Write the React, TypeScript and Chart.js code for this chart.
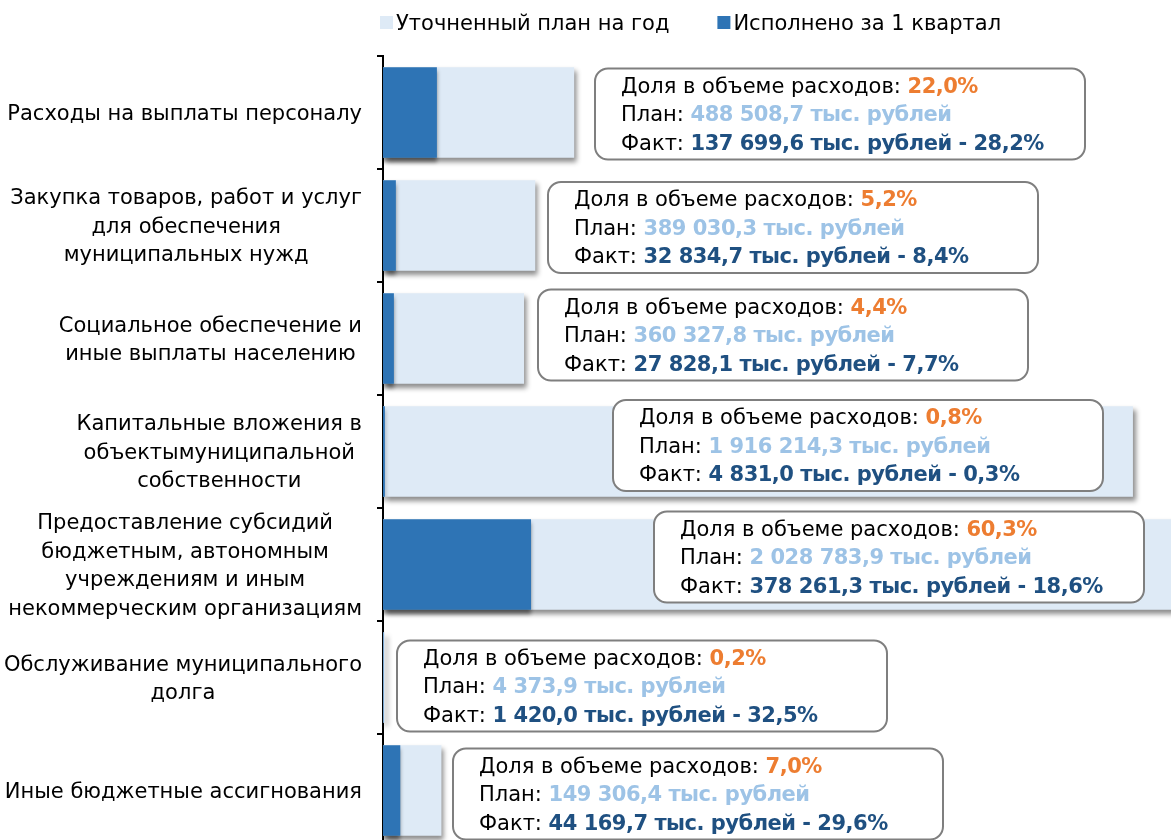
import React, { useEffect, useRef } from "react";
import { Chart, registerables } from "chart.js";

Chart.register(...registerables);

// ---------- data ----------
const categories: string[][] = [
  ["Расходы на выплаты персоналу"],
  ["Закупка товаров, работ и услуг", "для обеспечения", "муниципальных нужд"],
  ["Социальное обеспечение и", "иные выплаты населению"],
  ["Капитальные вложения в", "объектымуниципальной", "собственности"],
  ["Предоставление субсидий", "бюджетным, автономным", "учреждениям и иным", "некоммерческим организациям"],
  ["Обслуживание муниципального", "долга"],
  ["Иные бюджетные ассигнования"],
];
const seriesNames = ["Уточненный план на год", "Исполнено за 1 квартал"];
const planValues = [488508.7, 389030.3, 360327.8, 1916214.3, 2028783.9, 4373.9, 149306.4];
const factValues = [137699.6, 32834.7, 27828.1, 4831.0, 378261.3, 1420.0, 44169.7];
const shareLabels = ["22,0%", "5,2%", "4,4%", "0,8%", "60,3%", "0,2%", "7,0%"];
const factPercentLabels = ["28,2%", "8,4%", "7,7%", "0,3%", "18,6%", "32,5%", "29,6%"];

// ---------- layout / style ----------
const calloutLeft = [212, 165, 155, 230, 271, 14, 70]; // px from plot left
const calloutDy = [1.5, 2, -3.5, -6, -7.5, 8.5, 3.5];
const X_MAX = 2200000;
const FONT = "'DejaVu Sans', sans-serif";
const FS = 21;
const TEXT_DY = 2;
const PLAN_COLOR = "#deeaf6";
const FACT_COLOR = "#2e74b5";
const ORANGE = "#ed7d31";
const PLAN_TEXT = "#9dc3e6";
const FACT_TEXT = "#1f5081";

const fmt = (v: number) => {
  const [i, d] = v.toFixed(1).split(".");
  return i.replace(/\B(?=(\d{3})+(?!\d))/g, " ") + "," + d;
};

function drawRich(ctx: CanvasRenderingContext2D, x: number, y: number, parts: [string, boolean, string][]) {
  let cx = x;
  for (const [t, bold, color] of parts) {
    ctx.font = `${bold ? "bold " : ""}${FS}px ${FONT}`;
    (ctx as any).letterSpacing = bold ? "-0.5px" : "0px";
    ctx.fillStyle = color;
    ctx.fillText(t, cx, y);
    cx += ctx.measureText(t).width;
  }
  (ctx as any).letterSpacing = "0px";
}

const customPlugin = {
  id: "custom",
  beforeDatasetDraw(chart: any, args: any) {
    const ctx = chart.ctx;
    ctx.save();
    ctx.shadowColor = "rgba(0,0,0,0.45)";
    if (args.index === 0) {
      ctx.shadowBlur = 5;
      ctx.shadowOffsetX = 3;
      ctx.shadowOffsetY = 4;
    } else {
      ctx.shadowBlur = 4;
      ctx.shadowOffsetX = 0;
      ctx.shadowOffsetY = 4;
    }
  },
  afterDatasetDraw(chart: any) {
    chart.ctx.restore();
  },
  afterDraw(chart: any) {
    const ctx: CanvasRenderingContext2D = chart.ctx;
    const area = chart.chartArea;
    const yScale = chart.scales.y;
    ctx.save();

    // legend
    ctx.textBaseline = "middle";
    ctx.textAlign = "left";
    ctx.font = `${FS}px ${FONT}`;
    let lx = area.left - 3;
    const ly = 22.5;
    [PLAN_COLOR, FACT_COLOR].forEach((c, i) => {
      ctx.fillStyle = c;
      ctx.fillRect(lx, ly - 6.5, 13, 13);
      ctx.fillStyle = "#000";
      ctx.fillText(seriesNames[i], lx + 16, ly + TEXT_DY);
      lx += 16 + ctx.measureText(seriesNames[i]).width + 48;
    });

    // category labels
    ctx.font = `${FS}px ${FONT}`;
    ctx.fillStyle = "#000";
    ctx.textAlign = "center";
    categories.forEach((lines, i) => {
      const yc = yScale.getPixelForValue(i);
      const maxW = Math.max(...lines.map((l) => ctx.measureText(l).width));
      const cx = area.left - 21 - maxW / 2;
      const lh = 28.5;
      lines.forEach((l, j) => ctx.fillText(l, cx, yc + TEXT_DY + (j - (lines.length - 1) / 2) * lh));
    });

    // callouts
    const W = 490;
    const H = 91;
    ctx.textAlign = "left";
    categories.forEach((_, i) => {
      const yc = yScale.getPixelForValue(i) + calloutDy[i];
      const left = area.left + calloutLeft[i];
      const top = yc - H / 2;
      ctx.beginPath();
      ctx.roundRect(left, top, W, H, 13);
      ctx.fillStyle = "#fff";
      ctx.fill();
      ctx.lineWidth = 2;
      ctx.strokeStyle = "#7f7f7f";
      ctx.stroke();
      const tx = left + 26;
      const ty = yc + TEXT_DY;
      drawRich(ctx, tx, ty - 28.5, [
        ["Доля в объеме расходов: ", false, "#000"],
        [shareLabels[i], true, ORANGE],
      ]);
      drawRich(ctx, tx, ty, [
        ["План: ", false, "#000"],
        [`${fmt(planValues[i])} тыс. рублей`, true, PLAN_TEXT],
      ]);
      drawRich(ctx, tx, ty + 28.5, [
        ["Факт: ", false, "#000"],
        [`${fmt(factValues[i])} тыс. рублей - ${factPercentLabels[i]}`, true, FACT_TEXT],
      ]);
    });
    ctx.restore();
  },
};

export default function App() {
  const ref = useRef<HTMLCanvasElement>(null);
  useEffect(() => {
    document.body.style.margin = "0";
    const chart = new Chart(ref.current!, {
      type: "bar",
      data: {
        labels: categories.map((c) => c.join(" ")),
        datasets: [
          {
            label: seriesNames[0],
            data: planValues,
            backgroundColor: PLAN_COLOR,
            grouped: false,
            order: 1,
            barPercentage: 0.8,
            categoryPercentage: 1,
          } as any,
          {
            label: seriesNames[1],
            data: factValues,
            backgroundColor: FACT_COLOR,
            grouped: false,
            order: 0,
            barPercentage: 0.8,
            categoryPercentage: 1,
          } as any,
        ],
      },
      options: {
        indexAxis: "y",
        responsive: false,
        animation: false,
        layout: { padding: { top: 56, bottom: 1, left: 0, right: 0 } },
        plugins: { legend: { display: false }, tooltip: { enabled: false } },
        scales: {
          x: { type: "linear", min: 0, max: X_MAX, display: false },
          y: {
            type: "category",
            offset: true,
            grid: {
              display: true,
              drawOnChartArea: false,
              drawTicks: true,
              tickLength: 6,
              offset: true,
              color: "#000",
              lineWidth: 2,
            },
            border: { display: true, color: "#000", width: 2 },
            ticks: { display: false },
            afterFit: (s: any) => {
              s.width = 383;
            },
          } as any,
        },
      },
      plugins: [customPlugin],
    });
    return () => chart.destroy();
  }, []);
  return (
    <div style={{ width: 1171, height: 840, overflow: "hidden", position: "relative", background: "#fff" }}>
      <canvas ref={ref} width={1244} height={848} style={{ display: "block" }} />
    </div>
  );
}
